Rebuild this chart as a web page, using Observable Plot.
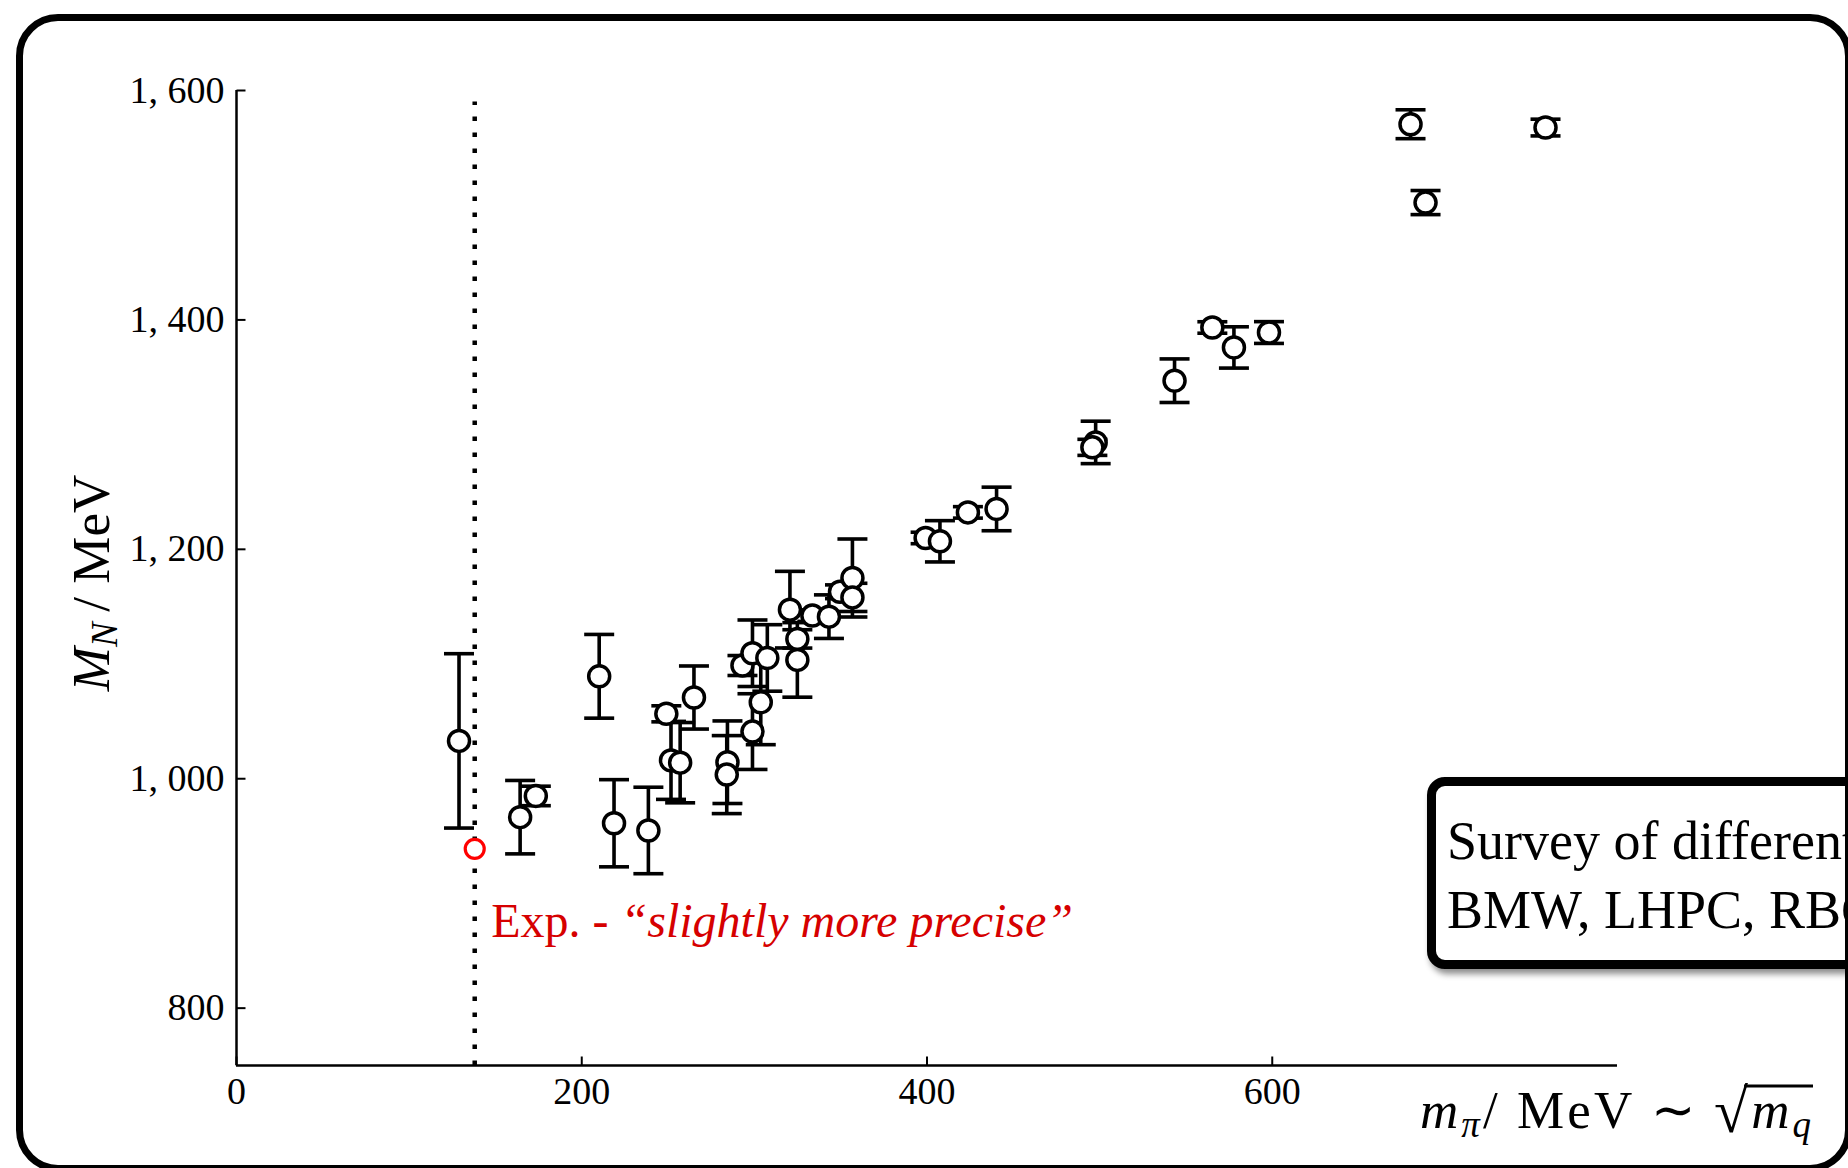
<!DOCTYPE html>
<html><head><meta charset="utf-8">
<script src="https://cdn.jsdelivr.net/npm/d3@7"></script>
<script src="https://cdn.jsdelivr.net/npm/@observablehq/plot@0.6"></script>
<style>
html,body{margin:0;padding:0;background:#fff;}
#page{position:relative;width:1848px;height:1168px;overflow:hidden;background:#fff;font-family:'Liberation Serif',serif;}
#chart{position:absolute;left:0;top:0;}
#frame{position:absolute;left:16px;top:14px;width:1836px;height:1158px;box-sizing:border-box;border:7px solid #000;border-radius:42px;pointer-events:none;}
#survey{position:absolute;left:1427px;top:777px;width:640px;height:192px;box-sizing:border-box;border:9px solid #000;border-radius:18px;background:#fff;box-shadow:3px 5px 6px rgba(0,0,0,0.45);padding:21px 0 0 11px;font-size:54px;line-height:69px;white-space:nowrap;color:#000;}
</style></head><body>
<div id="page"><div id="chart"></div><div id="survey">Survey of different<br>BMW, LHPC, RBC</div><div id="frame"></div></div>
<script>
// pion mass (MeV)
const mpi = [128.9, 164.3, 173.4, 210.1, 218.7, 238.6, 249.0, 251.7, 257.0, 265.0,
             284.4, 284.0, 293.1, 298.9, 298.9, 303.7, 307.5, 320.6, 324.9, 324.9,
             333.6, 343.2, 349.6, 356.8, 356.8, 399.2, 407.5, 423.7, 440.3, 497.7,
             495.8, 543.4, 565.3, 577.8, 598.1, 680.1, 688.8, 758.3];
// nucleon mass (MeV)
const mN = [1033, 966.5, 985, 1089.3, 961.2, 954.9, 1056.6, 1016, 1014, 1070.8,
            1014.4, 1003.6, 1098.7, 1109.4, 1041.1, 1066.7, 1105.3, 1147.4, 1121.9, 1103.6,
            1142.2, 1141.3, 1163, 1175, 1158.1, 1209.9, 1207, 1232.2, 1235.2, 1293.2,
            1288.9, 1347, 1393.4, 1376, 1389, 1570.6, 1502.3, 1567.7];
// error on nucleon mass (MeV)
const mNerr = [76, 32, 8.5, 36.5, 38, 37.7, 7, 34, 35, 27.5,
               36, 34, 8.7, 29, 33, 37, 29, 33.4, 8, 32.5,
               5, 19, 6, 34, 12.3, 5, 18, 5, 19, 18.5,
               7, 19, 5, 18, 9.5, 12.6, 10.5, 7.3];
// experimental point
const expX = 138;
const expY = 938.9;
const dottedTop = 1590;
const xDomain = [0, 800];
const yDomain = [750, 1600];
const xTicks = [0, 200, 400, 600];
const xTickLabels = ["0", "200", "400", "600"];
const yTicks = [800, 1000, 1200, 1400, 1600];
const yTickLabels = ["800", "1, 000", "1, 200", "1, 400", "1, 600"];

const data = mpi.map((x, i) => ({x, y: mN[i], e: mNerr[i]}));

const capSym = {draw(ctx, size) { const r = Math.sqrt(size / Math.PI); ctx.moveTo(-r, 0); ctx.lineTo(r, 0); }};
const tickUp = {draw(ctx, size) { const r = Math.sqrt(size / Math.PI); ctx.moveTo(0, 0); ctx.lineTo(0, -r); }};
const tickRight = {draw(ctx, size) { const r = Math.sqrt(size / Math.PI); ctx.moveTo(0, 0); ctx.lineTo(r, 0); }};

const chart = Plot.plot({
  width: 1848, height: 1168,
  marginLeft: 236, marginRight: 231, marginTop: 90, marginBottom: 103,
  style: {fontFamily: "'Liberation Serif', serif", fontSize: "38px", background: "transparent", overflow: "visible"},
  x: {domain: xDomain, label: null},
  y: {domain: yDomain, label: null},
  marks: [
    Plot.ruleY([yDomain[0]], {stroke: "#000", strokeWidth: 2.5}),
    Plot.ruleX([xDomain[0]], {stroke: "#000", strokeWidth: 2.5}),
    Plot.axisX({ticks: xTicks, tickSize: 0, tickPadding: 12, tickFormat: d => xTickLabels[xTicks.indexOf(d)], label: null}),
    Plot.axisY({ticks: yTicks, tickSize: 0, tickPadding: 12, tickFormat: d => yTickLabels[yTicks.indexOf(d)], label: null}),
    Plot.dot(xTicks, {x: d => d, y: yDomain[0], symbol: tickUp, r: 9, stroke: "#000", strokeWidth: 2, fill: "none"}),
    Plot.dot(yTicks, {x: xDomain[0], y: d => d, symbol: tickRight, r: 9, stroke: "#000", strokeWidth: 2, fill: "none"}),
    Plot.ruleX([expX], {y1: yDomain[0], y2: dottedTop, stroke: "#000", strokeWidth: 4.5, strokeDasharray: "4.5,11.5"}),
    Plot.ruleX(data, {x: "x", y1: d => d.y - d.e, y2: d => d.y + d.e, stroke: "#000", strokeWidth: 3.6}),
    Plot.dot(data, {x: "x", y: d => d.y + d.e, symbol: capSym, r: 15, stroke: "#000", strokeWidth: 3.6, fill: "none"}),
    Plot.dot(data, {x: "x", y: d => d.y - d.e, symbol: capSym, r: 15, stroke: "#000", strokeWidth: 3.6, fill: "none"}),
    Plot.dot(data, {x: "x", y: "y", r: 10.5, fill: "#fff", stroke: "#000", strokeWidth: 3.5}),
    Plot.dot([{x: expX, y: expY}], {x: "x", y: "y", r: 9.5, fill: "#fff", stroke: "#ff0000", strokeWidth: 3.2})
  ]
});
document.getElementById("chart").appendChild(chart);

const sx = chart.scale("x"), sy = chart.scale("y");
const svg = d3.select(chart);
const serif = "'Liberation Serif', serif";

// experimental annotation
const t = svg.append("text")
  .attr("x", sx.apply(expX) + 17).attr("y", sy.apply(expY) + 89)
  .attr("text-anchor", "start")
  .attr("fill", "#d60000").style("font-size", "48px").style("font-family", serif);
t.append("tspan").text("Exp. - ");
t.append("tspan").attr("font-style", "italic").text("\u201Cslightly more precise\u201D");

// y label
const yl = svg.append("text")
  .attr("transform", "translate(109,583) rotate(-90)")
  .attr("text-anchor", "middle").style("font-size", "53px").style("font-family", serif).attr("fill", "#000");
yl.append("tspan").attr("font-style", "italic").text("M");
yl.append("tspan").attr("font-style", "italic").attr("font-size", "37px").attr("dy", 8).text("N");
yl.append("tspan").attr("dy", -8).text("\u2009/ MeV");

// x label
const xl = svg.append("text")
  .attr("x", 1420).attr("y", 1128).attr("text-anchor", "start")
  .attr("textLength", 391).attr("lengthAdjust", "spacing")
  .style("font-size", "53px").style("font-family", serif).attr("fill", "#000");
xl.append("tspan").attr("font-style", "italic").text("m");
xl.append("tspan").attr("font-style", "italic").attr("font-size", "37px").attr("dy", 9).text("\u03C0");
xl.append("tspan").attr("dy", -9).text("/ MeV \u223C ");
xl.append("tspan").attr("font-size", "62px").attr("dy", 4).text("\u221A");
xl.append("tspan").attr("dy", -4).attr("font-style", "italic").text("m");
xl.append("tspan").attr("font-style", "italic").attr("font-size", "37px").attr("dy", 9).text("q");
try {
  const n = xl.node();
  const nc = n.getNumberOfChars();
  const e1 = n.getExtentOfChar(nc - 3);
  const e2 = n.getExtentOfChar(nc - 1);
  svg.append("line").attr("x1", e1.x + e1.width - 4).attr("x2", e2.x + e2.width + 2)
    .attr("y1", 1128 - 42).attr("y2", 1128 - 42).attr("stroke", "#000").attr("stroke-width", 3.2);
} catch (err) {}
</script>
</body></html>
